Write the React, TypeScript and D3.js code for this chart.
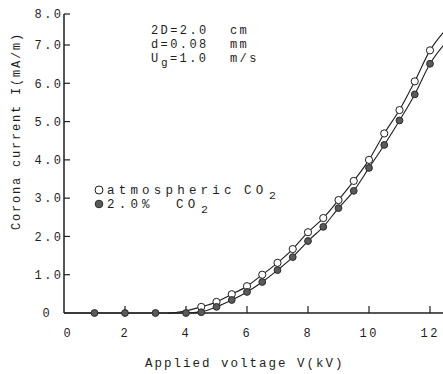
import React from "react";
import * as d3 from "d3";

const xTicks = [0, 2, 4, 6, 8, 10, 12];
const yTicks = [0, 1, 2, 3, 4, 5, 6, 7, 8];
const yTickLabels = ["0", "1.0", "2.0", "3.0", "4.0", "5.0", "6.0", "7.0", "8.0"];

const filledV = [1, 2, 3, 4, 4.5, 5, 5.5, 6, 6.5, 7, 7.5, 8, 8.5, 9, 9.5, 10, 10.5, 11, 11.5, 12];
const filledI = [0, 0, 0, 0, 0.02, 0.16, 0.34, 0.55, 0.81, 1.12, 1.46, 1.88, 2.25, 2.74, 3.19, 3.79, 4.39, 5.03, 5.71, 6.51];

const openV = [4.5, 5, 5.5, 6, 6.5, 7, 7.5, 8, 8.5, 9, 9.5, 10, 10.5, 11, 11.5, 12];
const openI = [0.16, 0.29, 0.49, 0.7, 1.0, 1.31, 1.67, 2.11, 2.48, 2.95, 3.45, 4.0, 4.69, 5.3, 6.05, 6.86];

// fitted curves (drawn lines)
const openFitV = [0, 3.4, 4, 4.5, 5, 5.5, 6, 6.5, 7, 7.5, 8, 8.5, 9, 9.5, 10, 10.5, 11, 11.5, 12, 12.45];
const openFitI = [0, 0, 0.06, 0.16, 0.29, 0.49, 0.7, 1.0, 1.31, 1.67, 2.11, 2.48, 2.95, 3.45, 4.0, 4.69, 5.3, 6.05, 6.86, 7.42];
const filledFitV = [3.4, 4, 4.5, 5, 5.5, 6, 6.5, 7, 7.5, 8, 8.5, 9, 9.5, 10, 10.5, 11, 11.5, 12, 12.45];
const filledFitI = [0, 0.0, 0.03, 0.16, 0.34, 0.55, 0.81, 1.12, 1.46, 1.88, 2.25, 2.74, 3.19, 3.79, 4.39, 5.03, 5.71, 6.51, 7.0];

const FONT = "'Liberation Mono', 'DejaVu Sans Mono', monospace";
const INK = "#1e1e1e";

export default function App() {
  const x = d3.scaleLinear().domain([0, 12]).range([64, 430]);
  const y = d3.scaleLinear().domain([0, 7, 8]).range([313, 45, 14]);

  const line = d3
    .line<[number, number]>()
    .x((d) => x(d[0]))
    .y((d) => y(d[1]))
    .curve(d3.curveMonotoneX);

  const openPath = line(openFitV.map((v, i) => [v, openFitI[i]]) as [number, number][]) || "";
  const filledPath = line(filledFitV.map((v, i) => [v, filledFitI[i]]) as [number, number][]) || "";

  const ls = 2.4;

  return (
    <svg
      width={443}
      height={374}
      style={{ position: "absolute", left: 0, top: 0, background: "#fff" }}
      fontFamily={FONT}
    >
      <rect x={0} y={0} width={443} height={374} fill="#fff" />

      {/* axes */}
      <line x1={x(0)} x2={443} y1={y(0)} y2={y(0)} stroke={INK} strokeWidth={1.5} />
      <line x1={x(0)} x2={x(0)} y1={y(0)} y2={y(8)} stroke={INK} strokeWidth={1.5} />

      {/* y ticks */}
      {yTicks.map((t, i) => (
        <g key={"yt" + t}>
          {t > 0 && (
            <line x1={x(0)} x2={x(0) + 6} y1={y(t)} y2={y(t)} stroke={INK} strokeWidth={1.2} />
          )}
          <text
            x={t === 0 ? 46 : 61 + ls}
            y={y(t)}
            dy="0.36em"
            textAnchor={t === 0 ? "middle" : "end"}
            fontSize={12}
            letterSpacing={t === 0 ? 0 : ls}
            fill={INK}
          >
            {yTickLabels[i]}
          </text>
        </g>
      ))}

      {/* x ticks */}
      {xTicks.map((t) => (
        <g key={"xt" + t}>
          {t > 0 && (
            <line x1={x(t)} x2={x(t)} y1={y(0)} y2={y(0) - 7} stroke={INK} strokeWidth={1.2} />
          )}
          <text
            x={(t === 0 ? x(t) + 3 : x(t) - 1) + ls / 2}
            y={337}
            textAnchor="middle"
            fontSize={12}
            letterSpacing={ls}
            fill={INK}
          >
            {String(t)}
          </text>
        </g>
      ))}

      {/* axis titles */}
      <text x={145} y={367} fontSize={12.5} letterSpacing={2.0} fill={INK}>
        Applied voltage V(kV)
      </text>
      <text
        transform="translate(20,230) rotate(-90)"
        x={0}
        y={0}
        fontSize={12}
        letterSpacing={1.8}
        fill={INK}
      >
        Corona current I(mA/m)
      </text>

      {/* curves */}
      <path d={openPath} fill="none" stroke={INK} strokeWidth={1.1} />
      <path d={filledPath} fill="none" stroke={INK} strokeWidth={1.1} />

      {/* markers */}
      {openV.map((v, i) => (
        <circle key={"o" + i} cx={x(v)} cy={y(openI[i])} r={3.6} fill="#fff" stroke={INK} strokeWidth={1} />
      ))}
      {filledV.map((v, i) => (
        <circle key={"f" + i} cx={x(v)} cy={y(filledI[i])} r={3.4} fill="#5a5a5a" stroke="#2a2a2a" strokeWidth={1} />
      ))}

      {/* annotation */}
      <g fontSize={12} letterSpacing={ls} fill={INK}>
        <text x={151} y={34}>2D=2.0</text>
        <text x={230} y={34}>cm</text>
        <text x={151} y={48}>d=0.08</text>
        <text x={230} y={48}>mm</text>
        <text x={151} y={62}>U</text>
        <text x={161} y={66} fontSize={11}>g</text>
        <text x={170} y={62}>=1.0</text>
        <text x={230} y={62}>m/s</text>
      </g>

      {/* legend */}
      <circle cx={99} cy={190} r={4} fill="#fff" stroke={INK} strokeWidth={1} />
      <circle cx={99} cy={204} r={3.8} fill="#5a5a5a" stroke="#2a2a2a" strokeWidth={1} />
      <g fontSize={12.5} letterSpacing={4.2} fill={INK}>
        <text x={107} y={194}>atmospheric</text>
        <text x={244} y={194}>CO</text>
        <text x={269} y={199} fontSize={11.5}>2</text>
        <text x={107} y={208}>2.0%</text>
        <text x={176} y={208}>CO</text>
        <text x={201} y={213} fontSize={11.5}>2</text>
      </g>
    </svg>
  );
}
